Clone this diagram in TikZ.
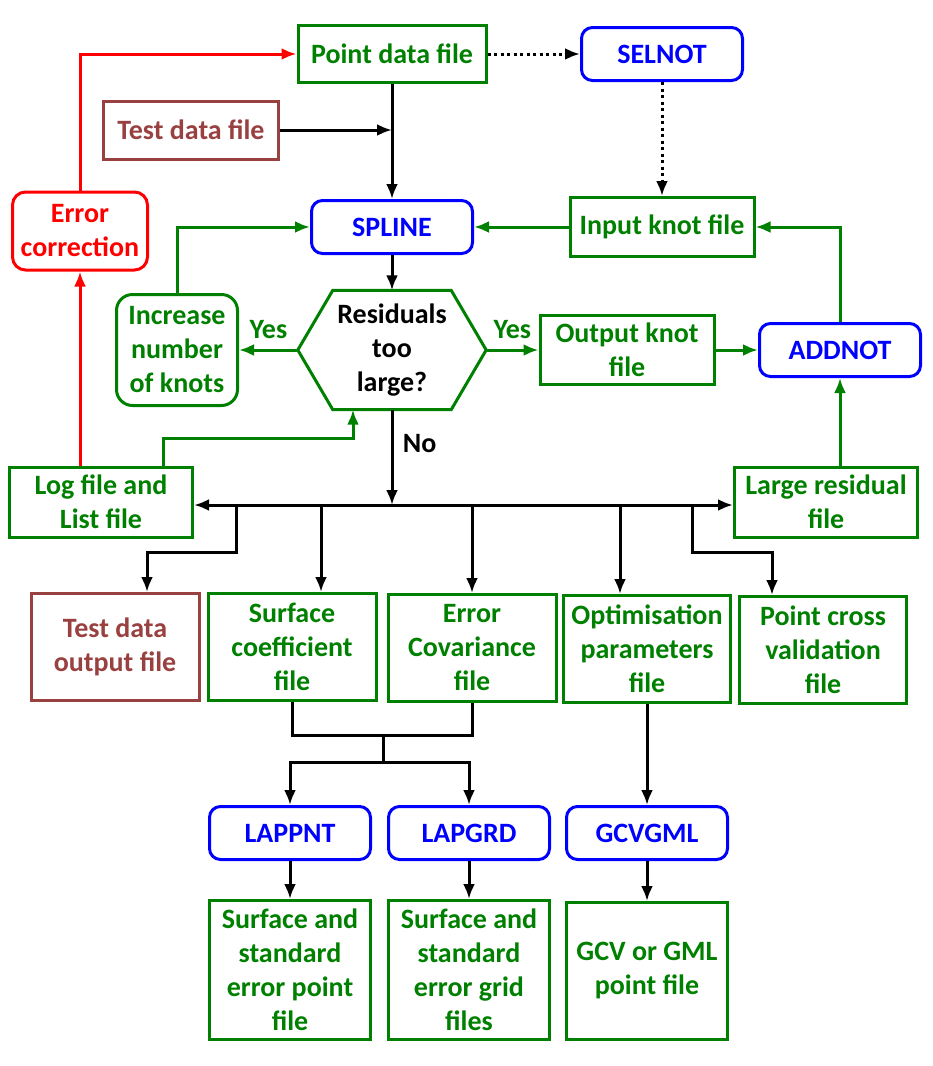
\documentclass[tikz,border=0pt]{standalone}
\usepackage{fontspec}
\setmainfont{Carlito}
\usetikzlibrary{arrows.meta}
\definecolor{dgreen}{RGB}{0,128,0}
\definecolor{dbrown}{RGB}{153,64,64}

\begin{document}
\begin{tikzpicture}[x=1pt, y=-1pt, font=\fontsize{28}{34}\selectfont\bfseries]
 \tikzstyle{filebox}=[rectangle, draw=dgreen, text=dgreen, line width=3pt, align=center, inner sep=0pt]
 \tikzstyle{testbox}=[rectangle, draw=dbrown, text=dbrown, line width=3pt, align=center, inner sep=0pt]
 \tikzstyle{progbox}=[rectangle, rounded corners=11pt, draw=blue, text=blue, line width=3pt, align=center, inner sep=0pt, minimum width=161pt, minimum height=53pt]
 \tikzstyle{fixbox}=[rectangle, rounded corners=13pt, draw=red, text=red, line width=3pt, align=center, inner sep=0pt]
 \tikzstyle{estun}=[-{Latex[length=15pt, width=12pt]}, line width=3pt, black]
 \tikzstyle{bline}=[line width=3pt, black]
 \tikzstyle{gestun}=[estun, dgreen]
 \tikzstyle{restun}=[estun, red]
 \tikzstyle{destun}=[estun, dash pattern=on 3pt off 3.5pt]
 \useasboundingbox (0,0) rectangle (933,1066);
 %
 \node[filebox, minimum width=188pt, minimum height=57pt] (PDF) at (392, 54) {Point data file};
 \node[progbox] (SEL) at (662, 54) {SELNOT};
 \node[testbox, minimum width=175pt, minimum height=58pt] (TDF) at (191, 130) {Test data file};
 \node[fixbox, minimum width=135pt, minimum height=78pt] (ERR) at (80, 231) {Error\\correction};
 \node[progbox] (SPL) at (392, 227) {SPLINE};
 \node[filebox, minimum width=184pt, minimum height=59pt] (INK) at (662, 227) {Input knot file};
 %
 \node[filebox, rounded corners=16pt, minimum width=121pt, minimum height=111pt] (INC) at (177, 350) {Increase\\number\\of knots};
 \node[minimum width=188pt, minimum height=119pt, inner sep=0pt, align=center] (RES) at (392, 350) {Residuals\\too\\large?};
 \draw[dgreen, line width=3pt] (RES.west) -- ([xshift=35pt]RES.north west) -- ([xshift=-35pt]RES.north east) -- (RES.east) -- ([xshift=-35pt]RES.south east) -- ([xshift=35pt]RES.south west) -- cycle;
 \node[filebox, minimum width=174pt, minimum height=69pt] (OKF) at (627, 350) {Output knot\\file};
 \node[progbox] (ADD) at (840, 350) {ADDNOT};
 %
 \node[filebox, minimum width=183pt, minimum height=70pt] (LOG) at (101, 502) {Log file and\\List file};
 \node[filebox, minimum width=183pt, minimum height=70pt] (LRF) at (826, 502) {Large residual\\file};
 %
 \node[testbox, minimum width=168pt, minimum height=107pt] (TDO) at (115, 647) {Test data\\output file};
 \node[filebox, minimum width=168pt, minimum height=107pt] (SCF) at (292, 647) {Surface\\coefficient\\file};
 \node[filebox, minimum width=168pt, minimum height=107pt] (ECF) at (472, 648) {Error\\Covariance\\file};
 \node[filebox, minimum width=167pt, minimum height=107pt] (OPF) at (647, 649) {Optimisation\\parameters\\file};
 \node[filebox, minimum width=167pt, minimum height=107pt] (PCV) at (823, 650) {Point cross\\validation\\file};
 %
 \node[progbox] (LPN) at (290, 833) {LAPPNT};
 \node[progbox] (LPG) at (469, 833) {LAPGRD};
 \node[progbox] (GCV) at (647, 833) {GCVGML};
 %
 \node[filebox, minimum width=161pt, minimum height=139pt] (SEP) at (290, 970) {Surface and\\standard\\error point\\file};
 \node[filebox, minimum width=161pt, minimum height=139pt] (SEG) at (469, 970) {Surface and\\standard\\error grid\\files};
 \node[filebox, minimum width=161pt, minimum height=137pt] (GPF) at (647, 971) {GCV or GML\\point file};
 %
 \coordinate (BUS) at (392, 505);
 \coordinate (J1) at (353, 438);
 \coordinate (J2) at (383, 735);
 \coordinate (J3) at (383, 762);
 %%
 \draw[restun] (ERR.north) |- (PDF.west);
 \draw[restun] (ERR |- LOG.north) -- (ERR.south);
 \draw[destun] (PDF.east) -- (SEL.west);
 \draw[destun] (SEL.south) -- (INK.north);
 \draw[estun] (PDF.south) -- (SPL.north);
 \draw[estun] (TDF.east) -- (PDF.south |- TDF.east);
 \draw[gestun] (INK.west) -- (SPL.east);
 \draw[gestun] (INC.north) |- (SPL.west);
 \draw[estun] (SPL.south) -- (RES.north);
 \draw[gestun] (RES.west) -- node[above, text=dgreen, yshift=6pt] {Yes} (INC.east);
 \draw[gestun] (RES.east) -- node[above, text=dgreen, yshift=6pt] {Yes} (OKF.west);
 \draw[gestun] (OKF.east) -- (ADD.west);
 \draw[gestun] (ADD.north) |- (INK.east);
 \draw[gestun] (ADD |- LRF.north) -- (ADD.south);
 \draw[gestun] ([xshift=62pt]LOG.north) |- (J1) -- (J1 |- RES.south);
 \draw[estun] (RES.south) -- node[pos=0.36, right, xshift=6pt] {No} (BUS);
 \draw[estun] (BUS) -- (BUS -| LOG.east);
 \draw[estun] (BUS) -- (BUS -| LRF.west);
 %
 \draw[estun] (BUS -| 236,0) |- (147, 552) -- ([xshift=32pt]TDO.north);
 \draw[estun] (BUS -| 321,0) -- ([xshift=29pt]SCF.north);
 \draw[estun] (BUS -| ECF.north) -- (ECF.north);
 \draw[estun] (BUS -| 620,0) -- ([xshift=-27pt]OPF.north);
 \draw[estun] (BUS -| 692,0) |- (772, 552) -- ([xshift=-51pt]PCV.north);
 %
 \draw[bline] (SCF.south) |- (J2) -| (ECF.south);
 \draw[bline] (J2) -- (J3);
 \draw[estun] (J3) -| (LPN.north);
 \draw[estun] (J3) -| (LPG.north);
 \draw[estun] (OPF.south) -- (GCV.north);
 \draw[estun] (LPN.south) -- (SEP.north);
 \draw[estun] (LPG.south) -- (SEG.north);
 \draw[estun] (GCV.south) -- (GPF.north);
\end{tikzpicture}
\end{document}
